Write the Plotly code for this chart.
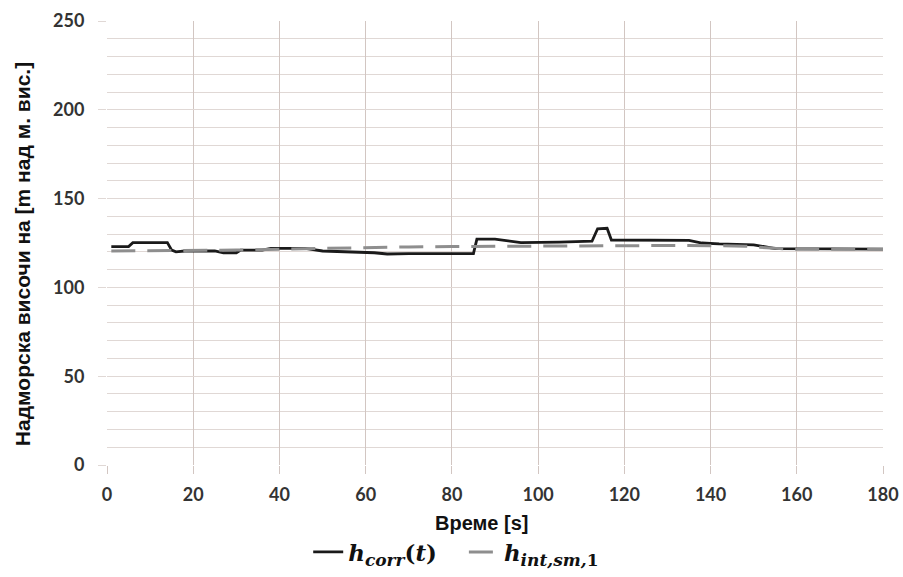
import plotly.graph_objects as go

# h_corr(t) – measured/corrected altitude
t_corr = [1, 5, 6, 14, 15, 16, 18, 25, 27, 30, 31, 36, 38, 46, 50, 57, 62, 65, 70, 85,
          85.8, 90, 93, 96, 105, 112.5, 113.8, 116, 117, 125, 135, 138, 142, 150, 155, 180]
h_corr = [123, 123, 125.2, 125.2, 121, 120, 120.5, 120.5, 119.5, 119.5, 121, 121, 122, 122,
          120.5, 120, 119.5, 118.8, 119, 119, 127.2, 127.2, 126, 125.2, 125.5, 126, 133,
          133.3, 126.7, 126.5, 126.5, 125, 124.5, 124, 121.8, 121.5]

# h_int,sm,1 – interpolated / smoothed altitude
t_int = [1, 20, 30, 40, 50, 60, 70, 80, 90, 100, 110, 120, 130, 140, 148, 155, 160, 180]
h_int = [120.5, 120.7, 121, 121.5, 122, 122.4, 122.8, 123, 123.2, 123.4, 123.5, 123.6,
         123.6, 123.5, 123.2, 122, 121.5, 121.5]

x_ticks = [0, 20, 40, 60, 80, 100, 120, 140, 160, 180]
y_ticks = [0, 50, 100, 150, 200, 250]

x_title = "Време [s]"
y_title = "Надморска височи на [m над м. вис.]"

grid_v = "#d2c6c2"
grid_h = "#e0d8d5"

sub = lambda s: '<sub><span style="font-size:17px">' + s + '</span></sub>'

fig = go.Figure()
fig.add_trace(go.Scatter(
    x=t_corr, y=h_corr, mode="lines",
    line=dict(color="#1a1a1a", width=2.8),
    name="<b><i>h</i>" + sub("<i>corr</i>") + "(<i>t</i>)</b>\u00a0\u00a0\u00a0",
))
fig.add_trace(go.Scatter(
    x=t_int, y=h_int, mode="lines",
    line=dict(color="#8e8e8e", width=3, dash="24px,12px"),
    name="<b><i>h</i>" + sub("<i>int,sm,</i>1") + "</b>",
))

fig.update_layout(
    width=903, height=577,
    margin=dict(l=107, r=20, t=21, b=112, autoexpand=False),
    plot_bgcolor="white", paper_bgcolor="white",
    showlegend=True,
    legend=dict(
        orientation="h", x=0.45, xanchor="center", y=-0.196, yanchor="middle",
        font=dict(family="DejaVu Serif", size=23, color="#111111"),
        itemwidth=30, tracegroupgap=0,
    ),
    annotations=[
        dict(text="<b>" + x_title + "</b>", xref="paper", yref="paper",
             x=0.483, y=-0.131, xanchor="center", yanchor="middle", showarrow=False,
             font=dict(family="Liberation Sans", size=20, color="#111111")),
        dict(text="<b>" + y_title + "</b>", xref="paper", yref="paper",
             x=-0.1095, y=0.475, xanchor="center", yanchor="middle", showarrow=False,
             textangle=-90,
             font=dict(family="Liberation Sans", size=21, color="#111111")),
    ],
)
fig.update_xaxes(
    range=[0, 180], tickvals=x_ticks, ticktext=[str(v) for v in x_ticks],
    showgrid=True, gridcolor=grid_v, gridwidth=1,
    zeroline=False, showline=False, automargin=False,
    ticks="outside", ticklen=8, tickcolor=grid_v,
    ticklabelstandoff=5,
    tickfont=dict(family="Lato", size=18, color="#333333", weight="bold"),
)
fig.update_yaxes(
    range=[0, 250], tickvals=y_ticks, ticktext=[str(v) for v in y_ticks],
    showgrid=True, gridcolor=grid_h, gridwidth=1,
    minor=dict(dtick=10, tick0=0, showgrid=True, gridcolor=grid_h, gridwidth=1),
    zeroline=False, showline=False, automargin=False,
    ticks="outside", ticklen=8, tickcolor=grid_h,
    ticklabelstandoff=10,
    tickfont=dict(family="Lato", size=18, color="#333333", weight="bold"),
)

fig.write_html("out.html", config={"displayModeBar": False},
               post_script="document.body.style.margin='0';document.body.style.overflow='hidden';")
